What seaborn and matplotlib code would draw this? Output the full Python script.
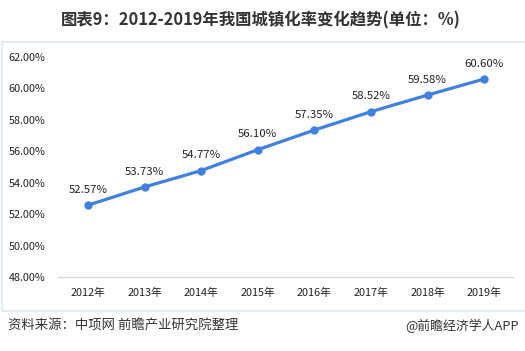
import matplotlib
matplotlib.use("Agg")
import matplotlib.pyplot as plt
import seaborn as sns
import pandas as pd
from matplotlib.patches import Rectangle
from matplotlib.ticker import FuncFormatter

years = ["2012年", "2013年", "2014年", "2015年", "2016年", "2017年", "2018年", "2019年"]
rates = [52.57, 53.73, 54.77, 56.10, 57.35, 58.52, 59.58, 60.60]
yticks = [48, 50, 52, 54, 56, 58, 60, 62]
title = "图表9：2012-2019年我国城镇化率变化趋势(单位：%)"
source = "资料来源：中项网 前瞻产业研究院整理"
brand = "@前瞻经济学人APP"

sns.set_theme(style="white")
plt.rcParams['font.family'] = ['Noto Sans CJK SC', 'DejaVu Sans']

df = pd.DataFrame({"year": years, "rate": rates})
W, H = 525, 351
fig = plt.figure(figsize=(W / 100, H / 100), dpi=100)

# light frame around chart region
fig.patches.append(Rectangle((2 / W, 1 - 311 / H), 530 / W, 269 / H, transform=fig.transFigure,
                             fill=False, edgecolor="#e6ebf2", linewidth=1.5))

ax = fig.add_axes([58 / W, 1 - 277 / H, (513 - 58) / W, (277 - 57) / H])
line_color = "#3f80e0"
sns.lineplot(data=df, x="year", y="rate", ax=ax, color=line_color, linewidth=2.3,
             marker="o", markersize=6, markeredgewidth=0, sort=False)

ax.set_ylim(48, 62)
ax.set_xlim(-0.53, 7.51)
ax.set_yticks(yticks)
ax.yaxis.set_major_formatter(FuncFormatter(lambda v, p: f"{v:.2f}%"))
ax.set_xlabel("")
ax.set_ylabel("")
for s in ["top", "right", "left"]:
    ax.spines[s].set_visible(False)
ax.spines["bottom"].set_color("#d9d9d9")
ax.spines["bottom"].set_linewidth(1)
ax.tick_params(axis="both", length=0, labelsize=7.8, colors="#222222")
ax.tick_params(axis="y", pad=9)
ax.tick_params(axis="x", pad=8)
for lab in ax.get_yticklabels():
    lab.set_horizontalalignment("right")

for i, v in enumerate(rates):
    ax.annotate(f"{v:.2f}%", (i, v), xytext=(0, 7.5), textcoords="offset points",
                ha="center", va="bottom", fontsize=8.2, color="#222222")

fig.text(0.497, 1 - 20 / H, title, ha="center", va="center", fontsize=11.8,
         fontweight="bold", color="#333333")
fig.text(8 / W, 1 - 326 / H, source, ha="left", va="center", fontsize=9.6, color="#333333")
fig.text(519 / W, 1 - 326 / H, brand, ha="right", va="center", fontsize=9.3, color="#333333")

fig.savefig("out.png", dpi=100)
